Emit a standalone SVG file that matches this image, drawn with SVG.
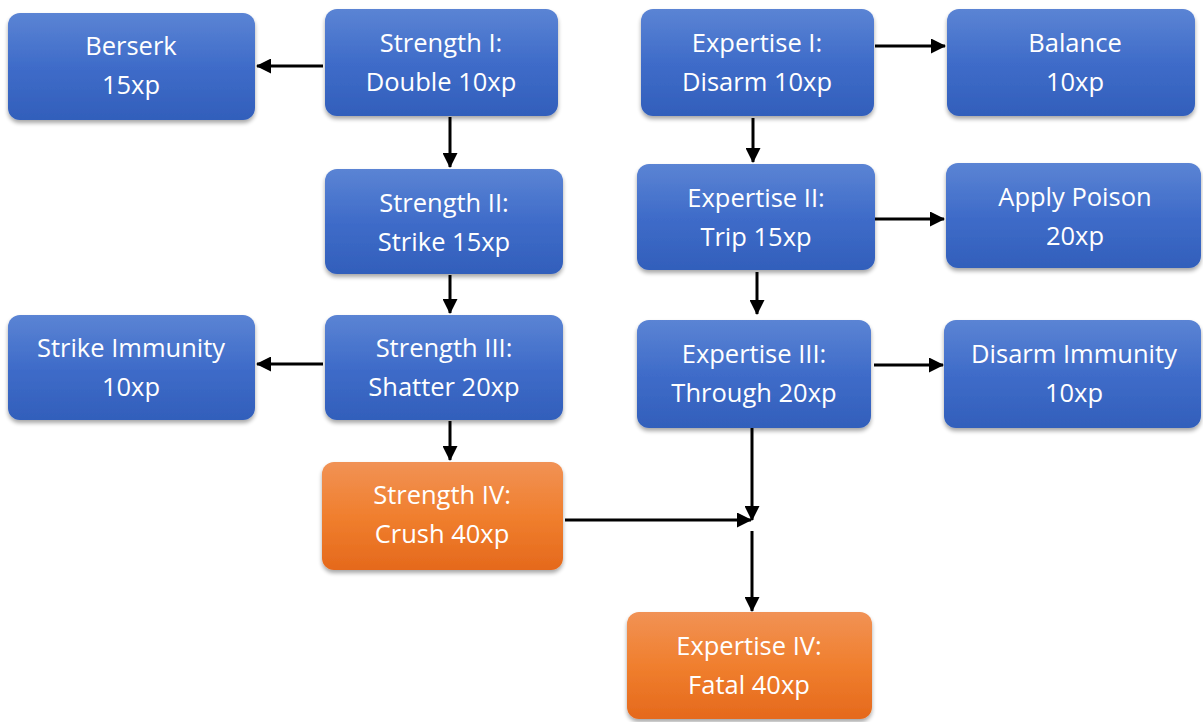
<svg xmlns="http://www.w3.org/2000/svg" width="1203" height="722" viewBox="0 0 1203 722">
<defs>
<linearGradient id="gb" x1="0" y1="0" x2="0" y2="1">
<stop offset="0" stop-color="#5b84d4"/>
<stop offset="0.5" stop-color="#3f6cc9"/>
<stop offset="1" stop-color="#325fbb"/>
</linearGradient>
<linearGradient id="go" x1="0" y1="0" x2="0" y2="1">
<stop offset="0" stop-color="#f19255"/>
<stop offset="0.5" stop-color="#f07f2e"/>
<stop offset="1" stop-color="#e5691c"/>
</linearGradient>
<filter id="sh" x="-10%" y="-10%" width="120%" height="130%">
<feGaussianBlur in="SourceAlpha" stdDeviation="2"/>
<feOffset dx="0" dy="3"/>
<feComponentTransfer><feFuncA type="linear" slope="0.35"/></feComponentTransfer>
<feMerge><feMergeNode/><feMergeNode in="SourceGraphic"/></feMerge>
</filter>
<marker id="ah" markerWidth="15" markerHeight="15" refX="14" refY="7.5" orient="auto" markerUnits="userSpaceOnUse" viewBox="0 0 15 15">
<path d="M0,0 L15,7.5 L0,15 Z" fill="#000"/>
</marker>
</defs>
<style>
.b{fill:url(#gb);filter:url(#sh)}
.o{fill:url(#go);filter:url(#sh)}
text{font-family:"Open Sans","Liberation Sans",sans-serif;font-size:25.5px;fill:#fff;text-anchor:middle}
.c line{stroke:#000;stroke-width:3;fill:none;marker-end:url(#ah)}
</style>
<rect width="1203" height="722" fill="#fff"/>
<g class="c" id="connectors">
<line x1="323" y1="66" x2="257" y2="66"/>
<line x1="450" y1="117" x2="450" y2="167"/>
<line x1="450" y1="275" x2="450" y2="313"/>
<line x1="450" y1="421" x2="450" y2="460"/>
<line x1="323" y1="364" x2="257" y2="364"/>
<line x1="875" y1="46" x2="945" y2="46"/>
<line x1="753" y1="118" x2="753" y2="162"/>
<line x1="875" y1="219" x2="944" y2="219"/>
<line x1="757" y1="272" x2="757" y2="314"/>
<line x1="874" y1="365" x2="943" y2="365"/>
<line x1="752" y1="428" x2="752" y2="520"/>
<line x1="565" y1="520" x2="751" y2="520"/>
<line x1="752" y1="531" x2="752" y2="611"/>
</g>
<g id="berserk"><rect class="b" x="8" y="13" width="247" height="107" rx="12"/><text x="131" y="55">Berserk</text><text x="131" y="94">15xp</text></g>
<g id="strength1"><rect class="b" x="325" y="9" width="233" height="107" rx="12"/><text x="441" y="52">Strength I:</text><text x="441" y="91">Double 10xp</text></g>
<g id="strength2"><rect class="b" x="325" y="169" width="238" height="105" rx="12"/><text x="444" y="212">Strength II:</text><text x="444" y="251">Strike 15xp</text></g>
<g id="strength3"><rect class="b" x="325" y="315" width="238" height="105" rx="12"/><text x="444" y="357">Strength III:</text><text x="444" y="396">Shatter 20xp</text></g>
<g id="strength4"><rect class="o" x="322" y="462" width="241" height="108" rx="12"/><text x="442" y="504">Strength IV:</text><text x="442" y="543">Crush 40xp</text></g>
<g id="strikeimm"><rect class="b" x="8" y="315" width="247" height="105" rx="12"/><text x="131" y="357">Strike Immunity</text><text x="131" y="396">10xp</text></g>
<g id="expertise1"><rect class="b" x="641" y="9" width="233" height="107" rx="12"/><text x="757" y="52">Expertise I:</text><text x="757" y="91">Disarm 10xp</text></g>
<g id="balance"><rect class="b" x="947" y="9" width="248" height="107" rx="12"/><text x="1075" y="52">Balance</text><text x="1075" y="91">10xp</text></g>
<g id="expertise2"><rect class="b" x="637" y="164" width="238" height="106" rx="12"/><text x="756" y="207">Expertise II:</text><text x="756" y="246">Trip 15xp</text></g>
<g id="poison"><rect class="b" x="946" y="163" width="255" height="105" rx="12"/><text x="1075" y="206">Apply Poison</text><text x="1075" y="245">20xp</text></g>
<g id="expertise3"><rect class="b" x="637" y="320" width="234" height="108" rx="12"/><text x="754" y="363">Expertise III:</text><text x="754" y="402">Through 20xp</text></g>
<g id="disarmimm"><rect class="b" x="944" y="320" width="257" height="108" rx="12"/><text x="1074" y="363">Disarm Immunity</text><text x="1074" y="402">10xp</text></g>
<g id="expertise4"><rect class="o" x="627" y="612" width="245" height="107" rx="12"/><text x="749" y="655">Expertise IV:</text><text x="749" y="694">Fatal 40xp</text></g>
</svg>
